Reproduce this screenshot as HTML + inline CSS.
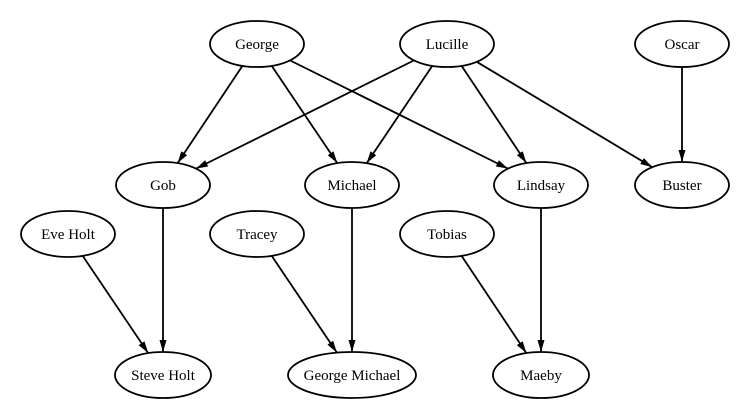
<!DOCTYPE html>
<html><head><meta charset="utf-8"><style>
html,body{margin:0;padding:0;background:#fff;}
svg{display:block;}
text{font-family:"Liberation Serif",serif;font-size:15px;fill:#000;}
</style></head><body>
<svg id="g" width="751" height="420" viewBox="0 0 751 420" xmlns="http://www.w3.org/2000/svg">
<defs><marker id="a" markerWidth="12" markerHeight="7" refX="12" refY="3.5" orient="auto" markerUnits="userSpaceOnUse"><path d="M0,0 L12,3.5 L0,7 z" fill="#000"/></marker></defs>
</svg>
<script>
var N={
George:[257,44,47],Lucille:[447,44,47],Oscar:[682,44,47],
Gob:[163,185,47],Michael:[352,185,47],Lindsay:[541,185,47],Buster:[682,185,47],
"Eve Holt":[68,234,47],Tracey:[257,234,47],Tobias:[447,234,47],
"Steve Holt":[163,375,48],"George Michael":[352,375,64],Maeby:[541,375,48]};
var E=[["George","Gob"],["George","Michael"],["George","Lindsay"],["Lucille","Gob"],["Lucille","Michael"],["Lucille","Lindsay"],["Lucille","Buster"],["Oscar","Buster"],["Gob","Steve Holt"],["Eve Holt","Steve Holt"],["Tracey","George Michael"],["Michael","George Michael"],["Tobias","Maeby"],["Lindsay","Maeby"]];
var ry=23,s='';
function clip(n,dx,dy){var rx=n[2];var t=1/Math.sqrt(dx*dx/(rx*rx)+dy*dy/(ry*ry));return [n[0]+dx*t,n[1]+dy*t];}
E.forEach(function(e){var a=N[e[0]],b=N[e[1]];var dx=b[0]-a[0],dy=b[1]-a[1];
var p=clip(a,dx,dy),q=clip(b,-dx,-dy);
s+='<line x1="'+p[0]+'" y1="'+p[1]+'" x2="'+q[0]+'" y2="'+q[1]+'" stroke="#000" stroke-width="1.8" marker-end="url(#a)"/>';});
for(var k in N){var n=N[k];s+='<ellipse cx="'+n[0]+'" cy="'+n[1]+'" rx="'+n[2]+'" ry="'+ry+'" fill="#fff" stroke="#000" stroke-width="1.8"/><text x="'+n[0]+'" y="'+(n[1]+5)+'" text-anchor="middle">'+k+'</text>';}
document.getElementById('g').insertAdjacentHTML('beforeend',s);
</script>
</body></html>
